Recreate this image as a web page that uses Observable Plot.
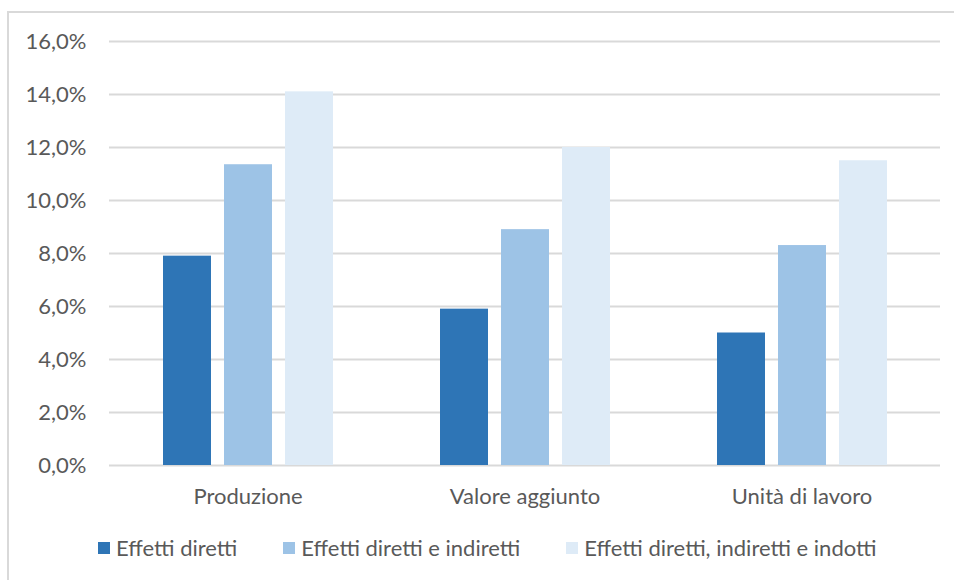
<!DOCTYPE html>
<html>
<head>
<meta charset="utf-8">
<script src="https://cdn.jsdelivr.net/npm/d3@7"></script>
<script src="https://cdn.jsdelivr.net/npm/@observablehq/plot@0.6"></script>
<style>
  html, body { margin: 0; padding: 0; background: #fff; }
  body { width: 954px; height: 580px; position: relative; overflow: hidden; font-family: Lato, "Open Sans", sans-serif; color: #595959; }
  #frame { position: absolute; left: 7px; top: 11px; width: 1000px; height: 600px; border-left: 2px solid #d9d9d9; border-top: 2px solid #d9d9d9; box-sizing: border-box; }
  #chart { position: absolute; left: 0; top: 0; }
  #legend { position: absolute; left: 98px; top: 534px; display: flex; align-items: center; font-size: 22px; white-space: nowrap; }
  .item { display: flex; align-items: center; }
  .sw { width: 12px; height: 12px; margin-right: 6px; }
</style>
</head>
<body>
<div id="frame"></div>
<div id="chart"></div>
<div id="legend"></div>
<script>
const categories = ["Produzione", "Valore aggiunto", "Unità di lavoro"];
const seriesNames = ["Effetti diretti", "Effetti diretti e indiretti", "Effetti diretti, indiretti e indotti"];
const colors = ["#2e75b6", "#9dc3e6", "#deebf7"];
const direct = [7.9, 5.9, 5.0];
const directIndirect = [11.35, 8.9, 8.3];
const directIndirectInduced = [14.1, 12.0, 11.5];
const yTicks = [0, 2, 4, 6, 8, 10, 12, 14, 16];

const seriesValues = [direct, directIndirect, directIndirectInduced];
const data = [];
categories.forEach((c, i) => {
  seriesNames.forEach((s, j) => data.push({category: c, series: s, value: seriesValues[j][i]}));
});

const fmt = d => d.toFixed(1).replace(".", ",") + "%";

const chart = Plot.plot({
  width: 954,
  height: 510,
  marginLeft: 108,
  marginRight: 14,
  marginTop: 41,
  marginBottom: 45,
  style: {fontFamily: "Lato, 'Open Sans', sans-serif", fontSize: "22px", color: "#595959", background: "transparent"},
  fx: {domain: categories, padding: 0, label: null, axis: "bottom", tickSize: 0, tickPadding: 23},
  x: {domain: seriesNames, axis: null, paddingInner: 0.215, paddingOuter: 0.853},
  y: {domain: [0, 16], ticks: yTicks, tickFormat: fmt, label: null, tickSize: 0, tickPadding: 23},
  color: {domain: seriesNames, range: colors},
  marks: [
    Plot.ruleY(yTicks, {stroke: "#d9d9d9", strokeWidth: 2}),
    Plot.barY(data, {fx: "category", x: "series", y: "value", fill: "series"})
  ]
});
document.getElementById("chart").appendChild(chart);

const legend = document.getElementById("legend");
seriesNames.forEach((s, j) => {
  const it = document.createElement("div");
  it.className = "item";
  it.style.marginRight = j < seriesNames.length - 1 ? "46px" : "0";
  const sw = document.createElement("div");
  sw.className = "sw";
  sw.style.background = colors[j];
  const t = document.createElement("span");
  t.textContent = s;
  it.appendChild(sw);
  it.appendChild(t);
  legend.appendChild(it);
});
</script>
</body>
</html>
